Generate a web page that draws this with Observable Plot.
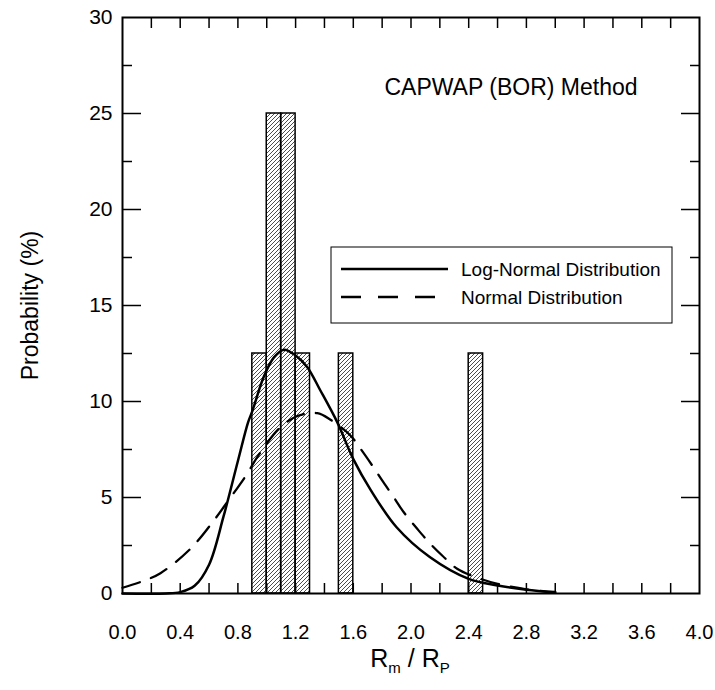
<!DOCTYPE html>
<html><head><meta charset="utf-8">
<script src="https://cdn.jsdelivr.net/npm/d3@7"></script>
<script src="https://cdn.jsdelivr.net/npm/@observablehq/plot@0.6"></script>
<style>body{margin:0;background:#fff;} #chart svg{display:block;}</style>
</head><body>
<svg width="0" height="0" style="position:absolute">
<defs><pattern id="hatch" patternUnits="userSpaceOnUse" width="4" height="4">
<path d="M-1,1 l2,-2 M0,4 l4,-4 M3,5 l2,-2" stroke="#000" stroke-width="0.7"/>
</pattern></defs></svg>
<div id="chart"></div>
<script>
// Histogram bins (R_m / R_P) and probabilities (%)
const binStart = [0.9, 1.0, 1.1, 1.2, 1.5, 2.4];
const binEnd   = [1.0, 1.1, 1.2, 1.3, 1.6, 2.5];
const binProb  = [12.5, 25, 25, 12.5, 12.5, 12.5];

// Log-normal distribution curve
const lognormX = [0, 0.3, 0.4, 0.5, 0.6, 0.7, 0.8, 0.87, 0.9, 0.98, 1.05, 1.12, 1.2, 1.28, 1.37, 1.49, 1.6, 1.72, 1.9, 2.13, 2.4, 2.6, 2.8, 3.0];
const lognormY = [0, 0, 0.07, 0.4, 1.5, 4.0, 6.9, 8.9, 9.5, 11.3, 12.3, 12.7, 12.4, 11.8, 10.6, 8.9, 7.0, 5.4, 3.45, 1.9, 0.76, 0.42, 0.19, 0.05];

// Normal distribution curve
const normalX = [0, 0.136, 0.263, 0.471, 0.633, 0.726, 0.864, 0.934, 1.095, 1.222, 1.35, 1.442, 1.58, 1.65, 1.731, 1.80, 1.88, 1.95, 2.043, 2.124, 2.216, 2.32, 2.45, 2.6, 2.8, 3.0];
const normalY = [0.3, 0.63, 1.06, 2.33, 3.8, 4.76, 6.23, 7.1, 8.66, 9.27, 9.39, 9.05, 8.23, 7.54, 6.67, 5.89, 5.02, 4.23, 3.37, 2.67, 1.98, 1.29, 0.85, 0.5, 0.22, 0.08];

// Ticks
const xLabelTicks = [0, 0.4, 0.8, 1.2, 1.6, 2.0, 2.4, 2.8, 3.2, 3.6, 4.0];
const xMinorTicks = [0.2, 0.4, 0.6, 0.8, 1.0, 1.2, 1.4, 1.6, 1.8, 2.0, 2.2, 2.4, 2.6, 2.8, 3.0, 3.2, 3.4, 3.6, 3.8];
const yLabelTicks = [0, 5, 10, 15, 20, 25, 30];
const yMajorTicks = [5, 10, 15, 20, 25];
const yMinorTicks = [2.5, 7.5, 12.5, 17.5, 22.5, 27.5];

const seriesNames = ["Log-Normal Distribution", "Normal Distribution"];
const titleText = "CAPWAP (BOR) Method";
const yTitle = "Probability (%)";

const bars = binStart.map((s, i) => ({x1: s, x2: binEnd[i], p: binProb[i]}));
const lognormal = lognormX.map((x, i) => ({x, y: lognormY[i]}));
const normal = normalX.map((x, i) => ({x, y: normalY[i]}));

const FONT = "'Liberation Sans', Arial, Helvetica, sans-serif";

const chart = Plot.plot({
  width: 715, height: 690,
  marginLeft: 122, marginRight: 16, marginTop: 17, marginBottom: 97,
  style: {fontFamily: FONT, background: "white", color: "black", overflow: "visible"},
  x: {domain: [0, 4]},
  y: {domain: [0, 30]},
  marks: [
    Plot.rectY(bars, {x1: "x1", x2: "x2", y: "p", fill: "url(#hatch)", stroke: "black", strokeWidth: 1.5}),
    Plot.line(lognormal, {x: "x", y: "y", curve: "catmull-rom", stroke: "black", strokeWidth: 2.5}),
    Plot.line(normal, {x: "x", y: "y", curve: "catmull-rom", stroke: "black", strokeWidth: 2.3, strokeDasharray: "18,12"}),
    Plot.axisX(xMinorTicks, {anchor: "bottom", tickSize: -10, tickFormat: () => "", label: null, strokeWidth: 1.5}),
    Plot.axisX(xMinorTicks, {anchor: "top", tickSize: -10, tickFormat: () => "", label: null, strokeWidth: 1.5}),
    Plot.axisX(xLabelTicks, {anchor: "bottom", tickSize: 0, tickPadding: 31, fontSize: 20, tickFormat: d => d.toFixed(1), label: null}),
    Plot.axisY(yMajorTicks, {anchor: "left", tickSize: -19, tickFormat: () => "", label: null, strokeWidth: 1.5}),
    Plot.axisY(yMinorTicks, {anchor: "left", tickSize: -10, tickFormat: () => "", label: null, strokeWidth: 1.5}),
    Plot.axisY(yMajorTicks, {anchor: "right", tickSize: -19, tickFormat: () => "", label: null, strokeWidth: 1.5}),
    Plot.axisY(yMinorTicks, {anchor: "right", tickSize: -10, tickFormat: () => "", label: null, strokeWidth: 1.5}),
    Plot.axisY(yLabelTicks, {anchor: "left", tickSize: 0, tickPadding: 10, fontSize: 21, label: null}),
    Plot.frame({stroke: "black", strokeWidth: 2}),
    Plot.text([titleText], {frameAnchor: "top", lineAnchor: "middle", dx: 100, dy: 70, fontSize: 23, fill: "black"}),
    Plot.text([yTitle], {frameAnchor: "left", textAnchor: "middle", lineAnchor: "middle", dx: -92, rotate: -90, fontSize: 23, fill: "black"})
  ]
});
document.getElementById("chart").appendChild(chart);

// Legend and x-axis title with subscripts
const svg = d3.select(chart);
const lg = svg.append("g").attr("font-family", FONT).attr("text-anchor", "start");
lg.append("rect").attr("x", 331).attr("y", 247).attr("width", 341).attr("height", 76)
  .attr("fill", "white").attr("stroke", "black").attr("stroke-width", 1);
lg.append("line").attr("x1", 341).attr("x2", 448).attr("y1", 269).attr("y2", 269)
  .attr("stroke", "black").attr("stroke-width", 2.5);
lg.append("line").attr("x1", 341).attr("x2", 440).attr("y1", 297).attr("y2", 297)
  .attr("stroke", "black").attr("stroke-width", 2.5).attr("stroke-dasharray", "20,17");
lg.append("text").attr("x", 461).attr("y", 269).attr("dy", "0.35em").attr("font-size", 19).attr("fill", "black").text(seriesNames[0]);
lg.append("text").attr("x", 461).attr("y", 297).attr("dy", "0.35em").attr("font-size", 19).attr("fill", "black").text(seriesNames[1]);

const xt = svg.append("text").attr("x", 410).attr("y", 667).attr("text-anchor", "middle")
  .attr("font-family", FONT).attr("font-size", 25).attr("fill", "black");
xt.append("tspan").text("R");
xt.append("tspan").attr("font-size", 15).attr("dy", 6).text("m");
xt.append("tspan").attr("dy", -6).text(" / R");
xt.append("tspan").attr("font-size", 15).attr("dy", 6).text("P");
</script>
</body></html>
